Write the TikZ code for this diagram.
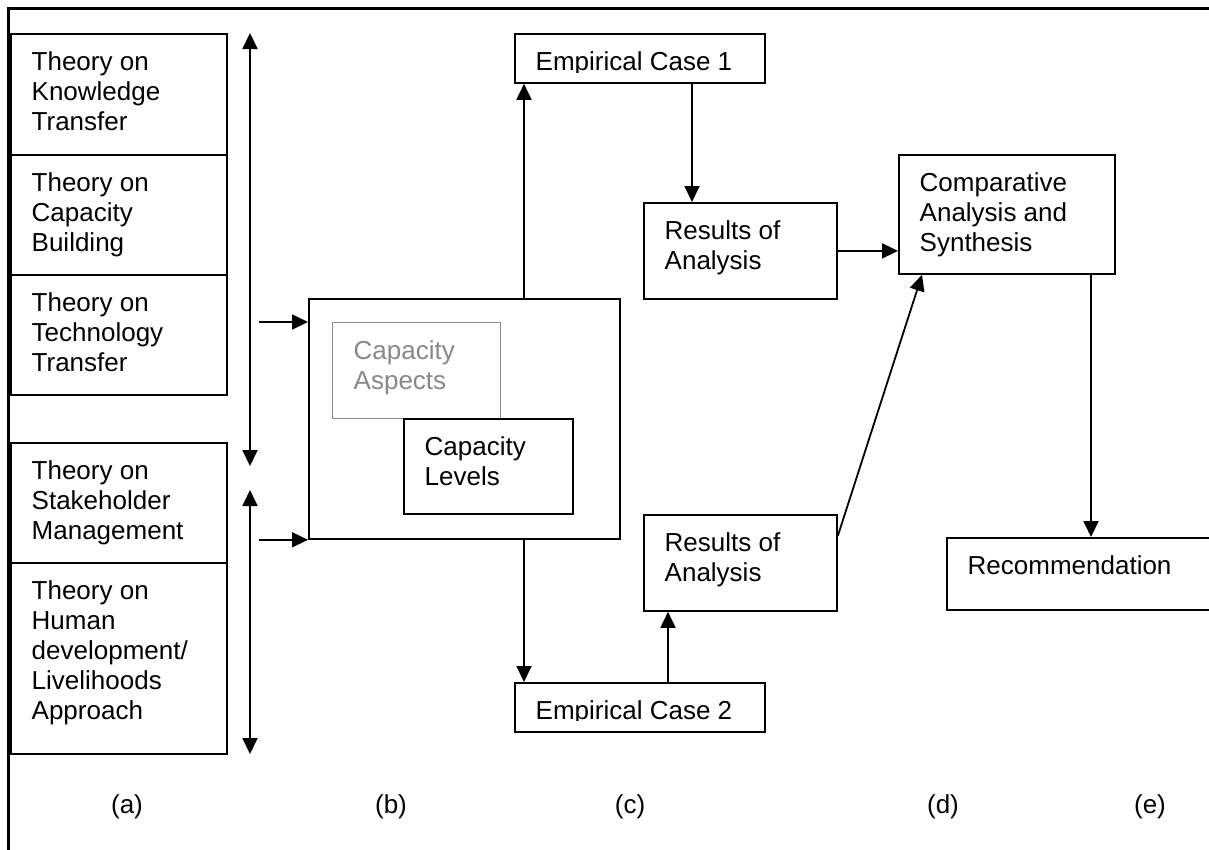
\documentclass[tikz,border=0pt]{standalone}
\usepackage{fontspec}
\setmainfont{Liberation Sans}
\usetikzlibrary{arrows.meta}
\definecolor{aspectgray}{RGB}{136,136,136}

\begin{document}
\begin{tikzpicture}[
        x=1pt, y=-1pt,
        box/.style={draw, line width=1.8pt, rectangle, anchor=north west, inner sep=0pt},
        txt/.style={anchor=north west, align=left, inner sep=0pt, xshift=21.5pt, yshift=-16pt, font=\fontsize{26}{30}\selectfont},
        arr/.style={-{Triangle[length=16pt,width=15pt]}, line width=1.8pt},
        dbl/.style={{Triangle[length=16pt,width=15pt]}-{Triangle[length=16pt,width=15pt]}, line width=1.8pt},
        tag/.style={anchor=base, font=\fontsize{26}{30}\selectfont},
    ]
    \useasboundingbox (0,0) rectangle (1209,849);
    \draw[line width=3pt] (8,860) -- (8,8) -- (1220,8);

    % (a) theories
    \node[box, minimum width=216, minimum height=121] (know) at (10,33) {};
    \node[txt] (knowtxt) at (know.north west) {\strut Theory on\\Knowledge\\Transfer};
    \node[box, minimum width=216, minimum height=120] (capb) at (10,154) {};
    \node[txt] (capbtxt) at (capb.north west) {\strut Theory on\\Capacity\\Building};
    \node[box, minimum width=216, minimum height=120] (tech) at (10,274) {};
    \node[txt] (techtxt) at (tech.north west) {\strut Theory on\\Technology\\Transfer};
    \node[box, minimum width=216, minimum height=120] (stake) at (10,442) {};
    \node[txt] (staketxt) at (stake.north west) {\strut Theory on\\Stakeholder\\Management};
    \node[box, minimum width=216, minimum height=191] (human) at (10,562) {};
    \node[txt] (humantxt) at (human.north west) {\strut Theory on\\Human\\development/\\Livelihoods\\Approach};

    \coordinate (up1) at (250,33);
    \coordinate (dn1) at (250,466);
    \coordinate (up2) at (250,490);
    \coordinate (dn2) at (250,754);
    \draw[dbl] (up1) -- (dn1);
    \draw[dbl] (up2) -- (dn2);

    % (b) capacity
    \node[box, minimum width=311, minimum height=240] (core) at (308,298) {};
    \node[box, draw=aspectgray, line width=1.3pt, minimum width=168, minimum height=96] (aspects) at (332,322) {};
    \node[txt, text=aspectgray] (aspectstxt) at (aspects.north west) {\strut Capacity\\Aspects};
    \node[box, fill=white, minimum width=169, minimum height=95] (levels) at (403,418) {};
    \node[txt] (levelstxt) at (levels.north west) {\strut Capacity\\Levels};

    \draw[arr] ([shift={(-49pt,-24pt)}]core.north west) -- ([yshift=-24pt]core.north west);
    \draw[arr] ([xshift=-49pt]core.south west) -- (core.south west);

    % (c) cases
    \node[box, minimum width=250, minimum height=49] (case1) at (514,33) {};
    \begin{scope}
        \clip (case1.north west) rectangle ([yshift=11pt]case1.south east);
        \node[txt] (case1txt) at (case1.north west) {\strut Empirical Case 1};
    \end{scope}
    \node[box, minimum width=193, minimum height=96] (res1) at (643,202) {};
    \node[txt] (res1txt) at (res1.north west) {\strut Results of\\Analysis};
    \node[box, minimum width=193, minimum height=96] (res2) at (643,514) {};
    \node[txt] (res2txt) at (res2.north west) {\strut Results of\\Analysis};
    \node[box, minimum width=250, minimum height=49] (case2) at (514,682) {};
    \begin{scope}
        \clip (case2.north west) rectangle ([yshift=12pt]case2.south east);
        \node[txt] (case2txt) at (case2.north west) {\strut Empirical Case 2};
    \end{scope}

    \draw[arr] ([xshift=10pt]case1.south west |- core.north) -- ([xshift=10pt]case1.south west);
    \draw[arr] ([xshift=49pt]res1.north west |- case1.south) -- ([xshift=49pt]res1.north west);
    \draw[arr] ([xshift=10pt]case2.north west |- core.south) -- ([xshift=10pt]case2.north west);
    \draw[arr] ([xshift=25pt]res2.south west |- case2.north) -- ([xshift=25pt]res2.south west);

    % (d) and (e)
    \node[box, minimum width=216, minimum height=119] (comp) at (898,154) {};
    \node[txt] (comptxt) at (comp.north west) {\strut Comparative\\Analysis and\\Synthesis};
    \node[box, minimum width=290, minimum height=72] (recom) at (946,537) {};
    \node[txt] (recomtxt) at (recom.north west) {\strut Recommendation};

    \draw[arr] (res1.east) -- (res1.east -| comp.west);
    \draw[arr] ([yshift=27pt]res2.east) -- ([xshift=24pt]comp.south west);
    \draw[arr] ([xshift=193pt]comp.south west) -- ([xshift=193pt]comp.south west |- recom.north);

    % column tags
    \node[tag] (taga) at (127,813) {(a)};
    \node[tag] (tagb) at (391,813) {(b)};
    \node[tag] (tagc) at (630,813) {(c)};
    \node[tag] (tagd) at (943,813) {(d)};
    \node[tag] (tage) at (1150,813) {(e)};
\end{tikzpicture}
\end{document}
